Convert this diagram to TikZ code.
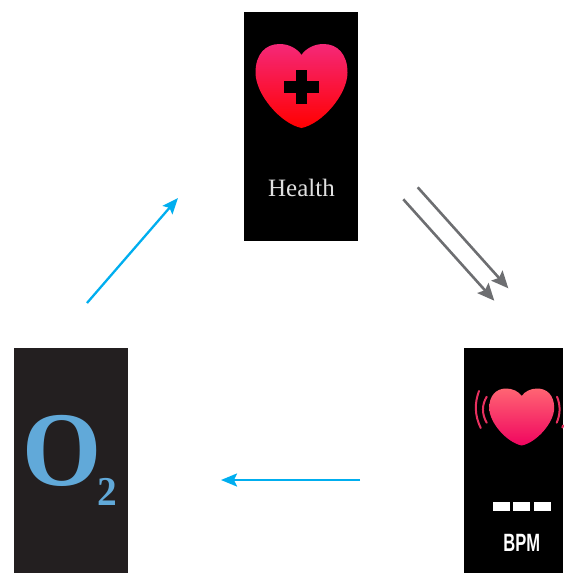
\documentclass[tikz,border=0pt]{standalone}
\usepackage{fontspec}
\setmainfont{Liberation Serif}
\newfontfamily\bpmfont[FakeStretch=0.66]{Liberation Sans}
\newfontfamily\oxyfont[FakeStretch=0.96]{Liberation Serif}
\usetikzlibrary{arrows.meta}
\definecolor{bandtwo}{HTML}{231F20}
\definecolor{oxy}{HTML}{61A9D9}
\definecolor{flow}{HTML}{00AEEF}
\definecolor{edge}{HTML}{6D6E71}
\definecolor{pulse}{HTML}{E8305F}
\definecolor{hearttop}{HTML}{F52878}
\definecolor{heartlow}{HTML}{FF0000}
\definecolor{bpmtop}{HTML}{FF6473}
\definecolor{bpmlow}{HTML}{F0055F}
\newcommand{\heartshape}{(0,0.87) .. controls (0.1,0.95) and (0.28,1) .. (0.48,1)
  .. controls (0.78,1) and (1,0.88) .. (1,0.66)
  .. controls (1,0.4) and (0.45,0.05) .. (0,0)
  .. controls (-0.45,0.05) and (-1,0.4) .. (-1,0.66)
  .. controls (-1,0.88) and (-0.78,1) .. (-0.48,1)
  .. controls (-0.28,1) and (-0.1,0.95) .. (0,0.87) -- cycle}
\tikzset{
  screen/.style={inner sep=0pt, outer sep=0pt, fill=black},
  a/.style={-{Stealth[length=16pt, width=13pt, inset=3pt]}, line width=2.3pt, draw=flow},
  ag/.style={-{Stealth[length=17pt, width=15pt, inset=3pt]}, line width=2.6pt, draw=edge},
  wave/.style={draw=pulse, line width=2pt, line cap=round},
  bar/.style={fill=white, inner sep=0pt, minimum width=17pt, minimum height=8.5pt},
}
\begin{document}
\begin{tikzpicture}[x=1pt, y=-1pt]
\useasboundingbox (0,0) rectangle (563,573);

% screens
\node[screen, minimum width=114pt, minimum height=229pt] (health) at (301,126.5) {};
\node[screen, minimum width=99pt, minimum height=225pt] (bpm) at (513.5,460.5) {};
\node[screen, fill=bandtwo, minimum width=114pt, minimum height=225pt] (otwo) at (71,460.5) {};

% health screen
\begin{scope}[shift={(301.5,128)}, x=46pt, y=84pt]
\shade[top color=hearttop, bottom color=heartlow] \heartshape;
\end{scope}
\fill[black] (296,70) rectangle (307,104);
\fill[black] (284,81) rectangle (319,93);
\node[text=white!88!black, font=\fontsize{25}{25}\selectfont] (healthtxt) at (301.5,188) {Health};

% bpm screen
\begin{scope}[shift={(521.7,445.5)}, x=32.5pt, y=57pt]
\shade[top color=bpmtop, bottom color=bpmlow] \heartshape;
\end{scope}
\draw[wave] (479,391) .. controls (474.5,403) and (474.5,415) .. (480.7,428);
\draw[wave] (486.7,396.7) .. controls (481.7,405) and (481.7,414) .. (486.7,422.7);
\draw[wave] (557,396.7) .. controls (560.5,405) and (560.5,414) .. (556.7,422.7);
\draw[wave] (563,425.5) -- (562.4,427.5);
\foreach \x/\n in {501/1, 521.7/2, 542.2/3}
  \node[bar] (bar\n) at (\x,506.7) {};
\node[text=white, font=\fontsize{25}{25}\selectfont\bpmfont\bfseries] (bpmtxt) at (521.7,542.5) {BPM};

% o2 screen
\node[text=oxy, inner sep=0pt, anchor=base west, font=\fontsize{106}{106}\selectfont\oxyfont\bfseries] (otxt) at (22,485.3)
  {O\kern-4pt\raisebox{-20pt}{\fontsize{41}{41}\selectfont 2}};

% arrows
\coordinate (s1) at (87,303);
\coordinate (e1) at (178,198);
\coordinate (s2) at (360,480);
\coordinate (e2) at (221,480);
\coordinate (s3) at (417.7,187.3);
\coordinate (e3) at (508.3,288.3);
\coordinate (s4) at (403.3,199.3);
\coordinate (e4) at (494.3,300.7);
\draw[a] (s1) -- (e1);
\draw[a] (s2) -- (e2);
\draw[ag] (s3) -- (e3);
\draw[ag] (s4) -- (e4);
\end{tikzpicture}
\end{document}
